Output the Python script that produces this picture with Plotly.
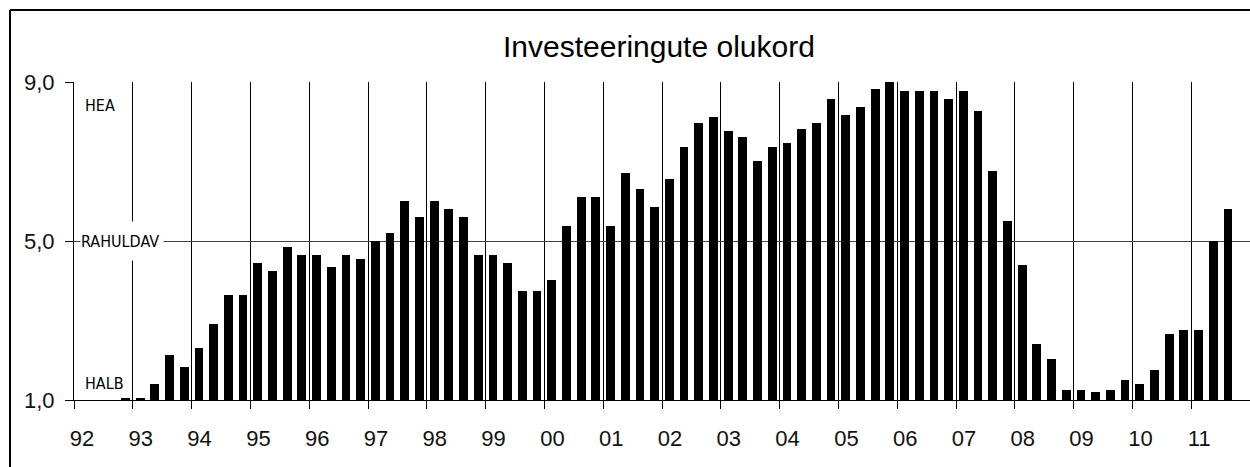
import plotly.graph_objects as go

quarters = ["1992Q4",
            "1993Q1", "1993Q2", "1993Q3", "1993Q4",
            "1994Q1", "1994Q2", "1994Q3", "1994Q4",
            "1995Q1", "1995Q2", "1995Q3", "1995Q4",
            "1996Q1", "1996Q2", "1996Q3", "1996Q4",
            "1997Q1", "1997Q2", "1997Q3", "1997Q4",
            "1998Q1", "1998Q2", "1998Q3", "1998Q4",
            "1999Q1", "1999Q2", "1999Q3", "1999Q4",
            "2000Q1", "2000Q2", "2000Q3", "2000Q4",
            "2001Q1", "2001Q2", "2001Q3", "2001Q4",
            "2002Q1", "2002Q2", "2002Q3", "2002Q4",
            "2003Q1", "2003Q2", "2003Q3", "2003Q4",
            "2004Q1", "2004Q2", "2004Q3", "2004Q4",
            "2005Q1", "2005Q2", "2005Q3", "2005Q4",
            "2006Q1", "2006Q2", "2006Q3", "2006Q4",
            "2007Q1", "2007Q2", "2007Q3", "2007Q4",
            "2008Q1", "2008Q2", "2008Q3", "2008Q4",
            "2009Q1", "2009Q2", "2009Q3", "2009Q4",
            "2010Q1", "2010Q2", "2010Q3", "2010Q4",
            "2011Q1", "2011Q2", "2011Q3"]

values = [1.05,
          1.05, 1.41, 2.12, 1.82,
          2.32, 2.92, 3.63, 3.63,
          4.44, 4.24, 4.84, 4.64,
          4.64, 4.34, 4.64, 4.54,
          4.99, 5.19, 6.00, 5.60,
          6.00, 5.80, 5.60, 4.64,
          4.64, 4.44, 3.73, 3.73,
          4.03, 5.39, 6.10, 6.10,
          5.39, 6.71, 6.30, 5.85,
          6.55, 7.36, 7.97, 8.12,
          7.76, 7.61, 7.01, 7.36,
          7.46, 7.82, 7.97, 8.57,
          8.17, 8.37, 8.82, 9.00,
          8.77, 8.77, 8.77, 8.57,
          8.77, 8.27, 6.76, 5.50,
          4.39, 2.42, 2.02, 1.26,
          1.26, 1.21, 1.26, 1.51,
          1.41, 1.76, 2.67, 2.77,
          2.77, 4.99, 5.80]

years = list(range(1992, 2012))
year_labels = ["92", "93", "94", "95", "96", "97", "98", "99", "00", "01",
               "02", "03", "04", "05", "06", "07", "08", "09", "10", "11"]
y_ticks = [1, 5, 9]
y_tick_labels = ["1,0", "5,0", "9,0"]
title_text = "Investeeringute olukord"
level_labels = ["HEA", "RAHULDAV", "HALB"]

# decimal-year centre of each quarter
x_pos = [int(q[:4]) + (int(q[-1]) - 0.5) / 4 for q in quarters]

cond = "DejaVu Sans Condensed, DejaVu Sans, sans-serif"
sans = "Liberation Sans, Arial, sans-serif"

fig = go.Figure()
fig.add_trace(go.Bar(
    x=x_pos, y=values, width=0.15,
    marker=dict(color="black", line=dict(width=0)),
    hovertemplate="%{y:.2f}<extra></extra>",
))

# plot area in screen pixels: left 74, right 1250, top 82, bottom 400
W, H = 1250, 467
L, R, T, B = 74, 0, 82, 467 - 400
pw, ph = W - L - R, H - T - B

def px_x(px):
    return (px - L) / pw

def px_y(py):
    return 1 - (py - T) / ph

label_font = dict(family=cond, size=16, color="black")

annotations = [
    dict(text=title_text, xref="paper", yref="paper", x=px_x(659), y=px_y(46),
         xanchor="center", yanchor="middle", showarrow=False,
         font=dict(family=sans, size=30, color="black")),
    dict(text=level_labels[0], xref="paper", yref="paper", x=px_x(83), y=px_y(105),
         xanchor="left", yanchor="middle", showarrow=False, font=label_font),
    dict(text=level_labels[1], xref="paper", yref="y", x=px_x(80), y=5,
         xanchor="left", yanchor="middle", showarrow=False,
         bgcolor="white", width=82, height=38, borderpad=0, align="left",
         font=label_font),
    dict(text=level_labels[2], xref="paper", yref="paper", x=px_x(83), y=px_y(383),
         xanchor="left", yanchor="middle", showarrow=False, font=label_font),
]

shapes = [
    dict(type="line", xref="paper", yref="paper",
         x0=px_x(10), x1=px_x(10), y0=px_y(10), y1=px_y(480),
         line=dict(color="black", width=2)),
    dict(type="line", xref="paper", yref="paper",
         x0=px_x(10), x1=px_x(1260), y0=px_y(10), y1=px_y(10),
         line=dict(color="black", width=2)),
]

fig.update_layout(
    width=W, height=H,
    margin=dict(l=L, r=R, t=T, b=B, pad=0, autoexpand=False),
    paper_bgcolor="white", plot_bgcolor="white",
    showlegend=False,
    bargap=0,
    annotations=annotations,
    shapes=shapes,
    xaxis=dict(
        range=[1992, 2012], tickmode="array", tickvals=years, ticktext=year_labels,
        showgrid=True, gridcolor="black", gridwidth=1,
        ticks="outside", ticklen=8, tickcolor="black", tickwidth=1,
        showline=True, linecolor="black", linewidth=1,
        zeroline=False, ticklabelshift=8, ticklabelstandoff=11,
        tickfont=dict(family=sans, size=22, color="#111"),
        automargin=False, fixedrange=True,
    ),
    yaxis=dict(
        range=[1, 9], tickmode="array", tickvals=y_ticks, ticktext=y_tick_labels,
        showgrid=True, gridcolor="#444", gridwidth=1,
        ticks="outside", ticklen=8, tickcolor="black", tickwidth=1,
        showline=True, linecolor="black", linewidth=1,
        zeroline=False, ticklabelstandoff=6,
        tickfont=dict(family=sans, size=22, color="#111"),
        automargin=False, fixedrange=True,
    ),
)

fig.write_html(
    "out.html",
    config={"displayModeBar": False},
    post_script="document.body.style.margin='0';document.body.style.overflow='hidden';",
)
